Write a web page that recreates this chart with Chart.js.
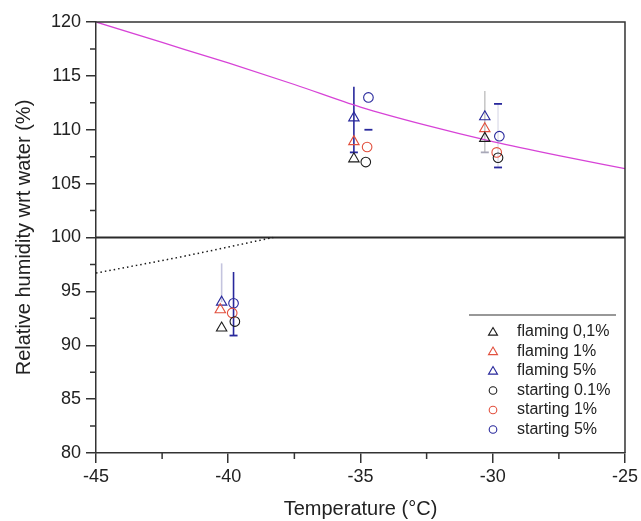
<!DOCTYPE html>
<html>
<head>
<meta charset="utf-8">
<script src="https://cdn.jsdelivr.net/npm/chart.js@4.4.1/dist/chart.umd.min.js"></script>
<style>
html, body { margin: 0; padding: 0; background: #fff; }
#wrap { width: 641px; height: 521px; }
</style>
</head>
<body>
<div id="wrap"><canvas id="rhChart" width="641" height="521"></canvas></div>
<script>
// Temperature (°C) / relative humidity wrt water (%)
const flaming01T = [-40.25, -35.25, -30.3];
const flaming01RH = [91.6, 107.3, 109.2];
const flaming1T = [-40.3, -35.25, -30.3];
const flaming1RH = [93.3, 108.9, 110.1];
const flaming5T = [-40.25, -35.25, -30.3];
const flaming5RH = [94.0, 111.1, 111.2];
const starting01T = [-39.75, -34.8, -29.8];
const starting01RH = [92.2, 107.0, 107.4];
const starting1T = [-39.85, -34.75, -29.85];
const starting1RH = [93.0, 108.4, 107.9];
const starting5T = [-39.8, -34.7, -29.75];
const starting5RH = [93.9, 113.0, 109.4];

// error bars (only the ones visible in the picture)
const errT = [-40.25, -39.8, -35.25, -34.7, -30.3, -29.8];
const errLow = [94.0, 90.9, 107.9, 110.0, 107.9, 106.5];
const errHigh = [97.6, 96.8, 114.0, 113.0, 113.6, 112.4];

// magenta reference curve
const curveT = [-45, -42.5, -40, -37.5, -35, -32.5, -30, -27.5, -25];
const curveRH = [120.0, 118.1, 116.2, 114.2, 112.1, 110.4, 108.9, 107.6, 106.4];

// dotted line and water saturation line
const dottedT = [-45, -41.8, -38.3];
const dottedRH = [96.7, 98.2, 100.0];
const waterT = [-45, -25];
const waterRH = [100, 100];

const xTicks = [-45, -40, -35, -30, -25];
const yTicks = [80, 85, 90, 95, 100, 105, 110, 115, 120];
const xMinor = [-42.5, -37.5, -32.5, -27.5];
const yMinor = [82.5, 87.5, 92.5, 97.5, 102.5, 107.5, 112.5, 117.5];

const BLACK = '#1c1c1c';
const RED = '#e2503e';
const BLUE = '#28289c';
const AXIS = '#333333';

function pts(xs, ys) {
    return xs.map((x, i) => ({ x: x, y: ys[i] }));
}

function markerSet(label, xs, ys, color, style) {
    return {
        label: label,
        data: pts(xs, ys),
        showLine: false,
        pointStyle: style,
        pointRadius: style === 'triangle' ? 6 : 4.8,
        pointBorderWidth: 1.1,
        borderColor: color,
        backgroundColor: 'rgba(0,0,0,0)',
        order: 0
    };
}

function lineSet(label, xs, ys, color, width, dash) {
    return {
        label: label,
        data: pts(xs, ys),
        showLine: true,
        borderColor: color,
        borderWidth: width,
        borderDash: dash,
        pointRadius: 0,
        cubicInterpolationMode: 'monotone',
        order: 10
    };
}

// style for each error bar: colour and which ends get a cap
const errStyle = [
    { line: '#c4c4de', cap: null, lowCap: false, highCap: false },
    { line: BLUE, cap: BLUE, lowCap: true, highCap: false },
    { line: BLUE, cap: BLUE, lowCap: true, highCap: false },
    { line: 'rgba(0,0,0,0)', cap: BLUE, lowCap: true, highCap: false },
    { line: '#c8c8c8', cap: '#a8a8b8', lowCap: true, highCap: false },
    { line: '#e4e4ee', cap: BLUE, lowCap: true, highCap: true }
];

const errorBarPlugin = {
    id: 'errorBars',
    beforeDatasetsDraw(chart) {
        const ctx = chart.ctx;
        const xs = chart.scales.x, ys = chart.scales.y;
        ctx.save();
        errT.forEach((t, i) => {
            const st = errStyle[i];
            const px = xs.getPixelForValue(t);
            const lo = ys.getPixelForValue(errLow[i]);
            const hi = ys.getPixelForValue(errHigh[i]);
            ctx.strokeStyle = st.line;
            ctx.lineWidth = 1.6;
            ctx.beginPath();
            ctx.moveTo(px, lo);
            ctx.lineTo(px, hi);
            ctx.stroke();
            ctx.strokeStyle = st.cap;
            ctx.lineWidth = 1.8;
            if (st.lowCap) {
                ctx.beginPath();
                ctx.moveTo(px - 4, lo);
                ctx.lineTo(px + 4, lo);
                ctx.stroke();
            }
            if (st.highCap) {
                ctx.beginPath();
                ctx.moveTo(px - 4, hi);
                ctx.lineTo(px + 4, hi);
                ctx.stroke();
            }
        });
        ctx.restore();
    }
};

// frame, minor ticks and the legend box in the lower right
const framePlugin = {
    id: 'frame',
    afterDraw(chart) {
        const ctx = chart.ctx;
        const a = chart.chartArea;
        const xs = chart.scales.x, ys = chart.scales.y;
        ctx.save();
        ctx.strokeStyle = AXIS;
        ctx.lineWidth = 1.5;
        ctx.beginPath();
        ctx.moveTo(a.left, a.top);
        ctx.lineTo(a.right, a.top);
        ctx.lineTo(a.right, a.bottom);
        ctx.stroke();

        ctx.beginPath();
        xMinor.forEach(v => {
            const px = xs.getPixelForValue(v);
            ctx.moveTo(px, a.bottom);
            ctx.lineTo(px, a.bottom + 6);
        });
        yMinor.forEach(v => {
            const py = ys.getPixelForValue(v);
            ctx.moveTo(a.left, py);
            ctx.lineTo(a.left - 6, py);
        });
        ctx.stroke();

        // legend
        ctx.lineWidth = 1.2;
        ctx.beginPath();
        ctx.moveTo(469, 315);
        ctx.lineTo(616, 315);
        ctx.stroke();
        ctx.font = '16px "Liberation Sans", Arial, sans-serif';
        ctx.textBaseline = 'middle';
        ctx.textAlign = 'left';
        const sets = chart.data.datasets.filter(d => d.order === 0);
        sets.forEach((d, i) => {
            const y = 332 + i * 19.5;
            ctx.strokeStyle = d.borderColor;
            ctx.lineWidth = 1.1;
            ctx.beginPath();
            if (d.pointStyle === 'triangle') {
                const r = 4.5;
                ctx.moveTo(493, y - r);
                ctx.lineTo(493 + r, y + r * 0.7);
                ctx.lineTo(493 - r, y + r * 0.7);
                ctx.closePath();
            } else {
                ctx.arc(493, y, 3.8, 0, Math.PI * 2);
            }
            ctx.stroke();
            ctx.fillStyle = '#222';
            ctx.fillText(d.label, 517, y);
        });
        ctx.restore();
    }
};

Chart.defaults.font.family = '"Liberation Sans", Arial, sans-serif';
Chart.defaults.color = '#222';

function initChart() {
    const ctx = document.getElementById('rhChart').getContext('2d');
    new Chart(ctx, {
        type: 'scatter',
        data: {
            datasets: [
                markerSet('flaming 0,1%', flaming01T, flaming01RH, BLACK, 'triangle'),
                markerSet('flaming 1%', flaming1T, flaming1RH, RED, 'triangle'),
                markerSet('flaming 5%', flaming5T, flaming5RH, BLUE, 'triangle'),
                markerSet('starting 0.1%', starting01T, starting01RH, BLACK, 'circle'),
                markerSet('starting 1%', starting1T, starting1RH, RED, 'circle'),
                markerSet('starting 5%', starting5T, starting5RH, BLUE, 'circle'),
                lineSet('curve', curveT, curveRH, '#d743d7', 1.3, []),
                lineSet('dotted', dottedT, dottedRH, '#1a1a1a', 1.5, [1.5, 3]),
                lineSet('water', waterT, waterRH, '#2a2a2a', 1.8, [])
            ]
        },
        options: {
            responsive: false,
            animation: false,
            layout: { padding: { top: 22, right: 15, left: 0, bottom: 0 } },
            plugins: {
                legend: { display: false },
                tooltip: { enabled: false }
            },
            scales: {
                x: {
                    type: 'linear',
                    min: -45,
                    max: -25,
                    afterBuildTicks: s => { s.ticks = xTicks.map(v => ({ value: v })); },
                    afterFit: s => { s.height = 68; },
                    ticks: { font: { size: 18 }, color: '#222', padding: 3, maxRotation: 0 },
                    grid: { drawOnChartArea: false, tickLength: 10, color: AXIS, lineWidth: 1.5 },
                    border: { color: AXIS, width: 1.5 },
                    title: { display: true, text: 'Temperature (°C)', font: { size: 20 }, color: '#222', padding: 0 }
                },
                y: {
                    min: 80,
                    max: 120,
                    afterBuildTicks: s => { s.ticks = yTicks.map(v => ({ value: v })); },
                    afterFit: s => { s.width = 96; },
                    ticks: { font: { size: 18 }, color: '#222', padding: 5 },
                    grid: { drawOnChartArea: false, tickLength: 10, color: AXIS, lineWidth: 1.5 },
                    border: { color: AXIS, width: 1.5 },
                    title: { display: true, text: 'Relative humidity wrt water (%)', font: { size: 20 }, color: '#222', padding: { top: 12 } }
                }
            }
        },
        plugins: [errorBarPlugin, framePlugin]
    });
}

document.addEventListener('DOMContentLoaded', initChart);
</script>
</body>
</html>
